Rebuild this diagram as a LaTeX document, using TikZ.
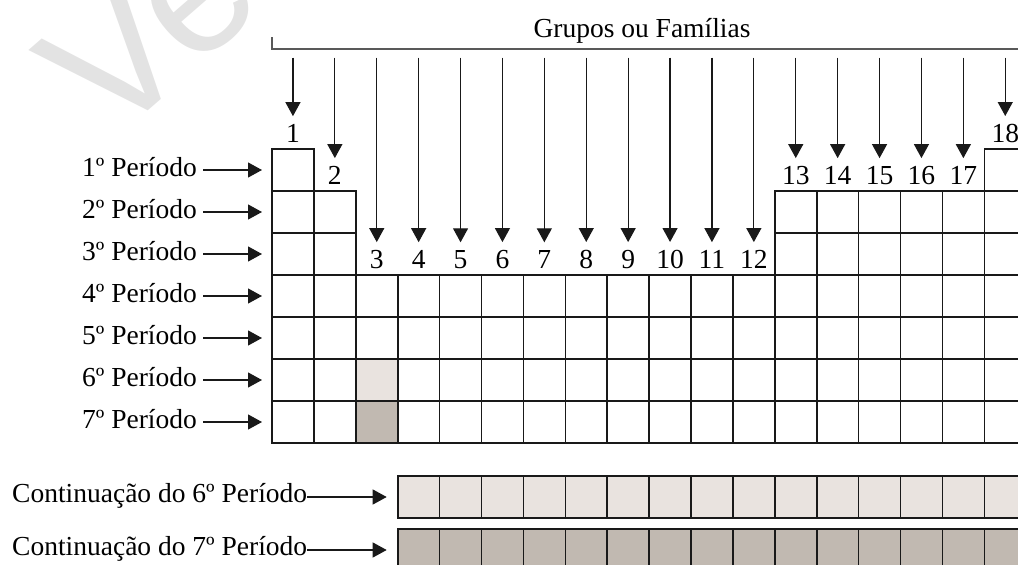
\documentclass[tikz,border=0pt]{standalone}
\usepackage{fontspec}
\setmainfont{Liberation Serif}
\newfontfamily\wmfont{Liberation Sans}
\usetikzlibrary{arrows.meta}
\definecolor{lanth}{HTML}{E9E3DF}
\definecolor{actin}{HTML}{C1B9B1}
\definecolor{wmgray}{HTML}{E3E3E3}
\begin{document}
\begin{tikzpicture}[x=1pt,y=-1pt,
  cell/.style={draw=black!90, line width=1.6pt, minimum width=41.9pt, minimum height=42pt, inner sep=0pt, outer sep=0pt},
  lab/.style={font=\fontsize{27.5}{30}\selectfont, inner sep=0pt},
  arr/.style={line width=1.2pt, draw=black!90, -{Triangle[length=14pt,width=15pt]}},
  bracketline/.style={line width=1.4pt, draw=black!65},
  watermark/.style={font=\wmfont\fontsize{180}{180}\selectfont, text=wmgray, inner sep=0pt}
]
\useasboundingbox (0,0) rectangle (1018,565);
% watermark
\node[watermark, rotate=41, anchor=base west] (wm) at (109.7,144.4) {Ve};
% bracket
\draw[bracketline] (272,37) |- (1030,49);
\node[lab, anchor=base] (title) at (642,37) {Grupos ou Famílias};
% cells
\foreach \cc in {1,18}
  \node[cell] (c-1-\cc) at ({292.95+41.9*(\cc-1)},170) {};
\foreach \rr in {2,3}
  \foreach \cc in {1,2,13,14,15,16,17,18}
    \node[cell] (c-\rr-\cc) at ({292.95+41.9*(\cc-1)},{170+42*(\rr-1)}) {};
\foreach \rr in {4,5}
  \foreach \cc in {1,...,18}
    \node[cell] (c-\rr-\cc) at ({292.95+41.9*(\cc-1)},{170+42*(\rr-1)}) {};
\foreach \rr in {6,7}
  \foreach \cc in {1,2,4,5,6,7,8,9,10,11,12,13,14,15,16,17,18}
    \node[cell] (c-\rr-\cc) at ({292.95+41.9*(\cc-1)},{170+42*(\rr-1)}) {};
\node[cell, fill=lanth] (c-6-3) at (376.75,380) {};
\node[cell, fill=actin] (c-7-3) at (376.75,422) {};
% continuation rows
\foreach \cc in {4,...,18}{
  \node[cell, fill=lanth] (l-\cc) at ({292.95+41.9*(\cc-1)},497) {};
  \node[cell, fill=actin] (a-\cc) at ({292.95+41.9*(\cc-1)},550) {};
}
% group numbers and arrows
\foreach \cc/\bl in {1/142,2/184,3/268,4/268,5/268,6/268,7/268,8/268,9/268,10/268,11/268,12/268,13/184,14/184,15/184,16/184,17/184,18/142}{
  \node[lab, anchor=base] (g\cc) at ({292.95+41.9*(\cc-1)},\bl) {\cc};
  \coordinate (t\cc) at ({292.95+41.9*(\cc-1)},57.5);
  \draw[arr, shorten >=7.5pt] (t\cc) -- (g\cc.north);
}
% period labels
\foreach \rr in {1,...,7}{
  \node[lab, anchor=base east] (p\rr) at (197,{176+42*(\rr-1)}) {\rr{}º Período};
  \draw[arr, shorten <=6pt, shorten >=10pt] (p\rr.east |- c-\rr-1.west) -- (c-\rr-1.west);
}
% continuation labels
\node[lab, anchor=base west] (L6) at (12,502) {Continuação do 6º Período};
\node[lab, anchor=base west] (L7) at (12,555) {Continuação do 7º Período};
\draw[arr, shorten >=11pt] (L6.east |- l-4.west) -- (l-4.west);
\draw[arr, shorten >=11pt] (L7.east |- a-4.west) -- (a-4.west);
\end{tikzpicture}
\end{document}
